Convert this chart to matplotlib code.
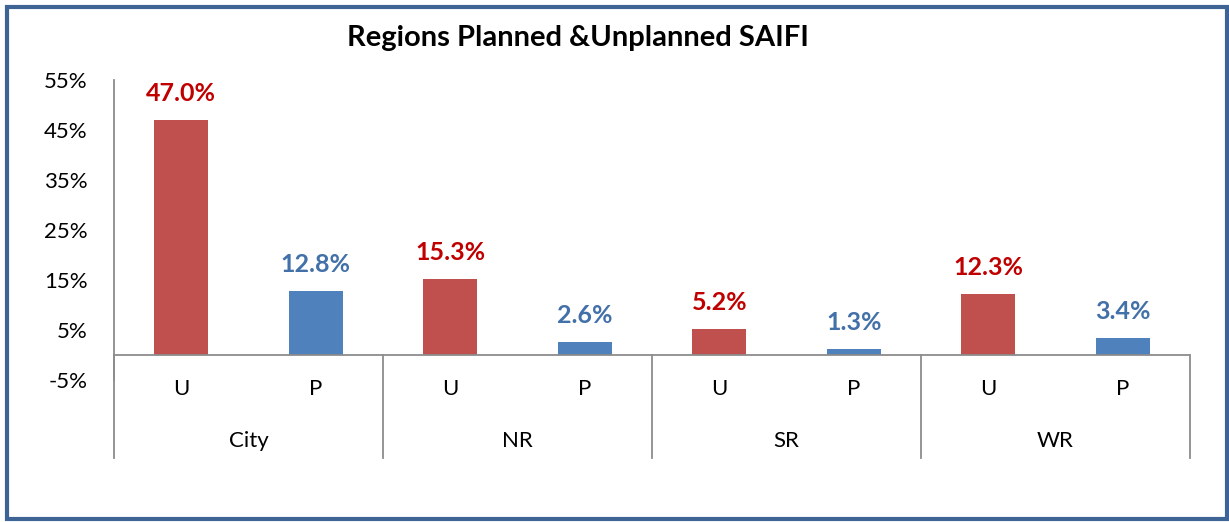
import numpy as np
import matplotlib
matplotlib.use("Agg")
import matplotlib.pyplot as plt
from matplotlib.patches import Rectangle
from matplotlib.ticker import FuncFormatter

plt.rcParams['font.family'] = ['Lato', 'DejaVu Sans']

# data
regions = ['City', 'NR', 'SR', 'WR']
kinds = ['U', 'P']
unplanned = [47.0, 15.3, 5.2, 12.3]
planned = [12.8, 2.6, 1.3, 3.4]
yticks = [-5, 5, 15, 25, 35, 45, 55]

red_bar = '#C0504D'
blue_bar = '#4F81BD'
red_txt = '#C00000'
blue_txt = '#4270A8'
axis_col = '#8C8C8C'

W, H = 1229, 522
fig = plt.figure(figsize=(W / 100, H / 100), dpi=100)

# axes placed in pixel terms: x 114..1190, y 80 (55%) .. 380 (-5%)
x0, x1, ytop, ybot = 114, 1190, 80, 380
ax = fig.add_axes([x0 / W, (H - ybot) / H, (x1 - x0) / W, (ybot - ytop) / H])

n = len(regions)
xs_u = np.arange(n) * 2 + 0.5
xs_p = np.arange(n) * 2 + 1.5
bw = 0.40
ax.bar(xs_u, unplanned, width=bw, color=red_bar, zorder=2)
ax.bar(xs_p, planned, width=bw, color=blue_bar, zorder=2)

for x, v in zip(xs_u, unplanned):
    ax.annotate(f'{v:.1f}%', (x, v), xytext=(0, 19), textcoords='offset points',
                ha='center', va='center', fontsize=18, fontweight='bold', color=red_txt)
for x, v in zip(xs_p, planned):
    ax.annotate(f'{v:.1f}%', (x, v), xytext=(0, 19), textcoords='offset points',
                ha='center', va='center', fontsize=18, fontweight='bold', color=blue_txt)

ax.set_xlim(0, 2 * n)
ax.set_ylim(-5, 55)
ax.set_yticks(yticks)
ax.yaxis.set_major_formatter(FuncFormatter(lambda v, p: f'{v:.0f}%'))
ax.tick_params(axis='y', length=0, pad=19, labelsize=16)
ax.set_xticks([])

for s in ['top', 'right', 'bottom']:
    ax.spines[s].set_visible(False)
ax.spines['left'].set_color(axis_col)
ax.spines['left'].set_linewidth(1.3)

# category axis at zero
ax.axhline(0, color=axis_col, lw=1.3, zorder=3)

# multi-level category labels below the axis
trans = ax.get_xaxis_transform()
sep_bottom = (ybot - 458) / (ybot - ytop)
zero_frac = 5 / 60
for i in range(n + 1):
    ax.plot([2 * i, 2 * i], [zero_frac, sep_bottom], transform=trans,
            color=axis_col, lw=1.3, clip_on=False)
y_kind = (ybot - 389) / (ybot - ytop)
y_reg = (ybot - 441) / (ybot - ytop)
for i, r in enumerate(regions):
    ax.text(xs_u[i], y_kind, kinds[0], transform=trans, ha='center', va='center', fontsize=16)
    ax.text(xs_p[i], y_kind, kinds[1], transform=trans, ha='center', va='center', fontsize=16)
    ax.text(2 * i + 1, y_reg, r, transform=trans, ha='center', va='center', fontsize=16)

fig.text(578 / W, (H - 38) / H, 'Regions Planned &Unplanned SAIFI', ha='center', va='center',
         fontsize=21, fontweight='bold')

fig.patches.append(Rectangle((7 / W, 3 / H), (1220 / W), (512 / H), transform=fig.transFigure,
                             fill=False, edgecolor='#3E6496', lw=3))

fig.savefig('out.png', dpi=100)
